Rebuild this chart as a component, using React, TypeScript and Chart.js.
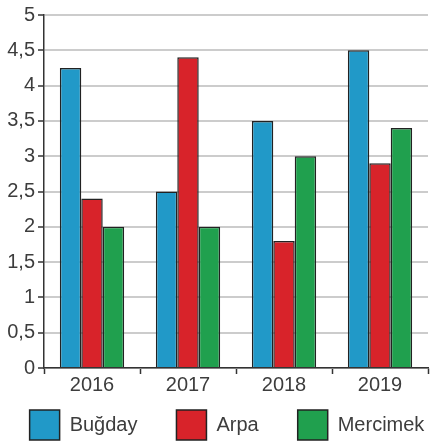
import React, { useEffect, useRef } from "react";
import { Chart, registerables } from "chart.js";

Chart.register(...registerables);

const categories = ["2016", "2017", "2018", "2019"];
const seriesNames = ["Buğday", "Arpa", "Mercimek"];
const bugday = [4.25, 2.5, 3.5, 4.5];
const arpa = [2.4, 4.4, 1.8, 2.9];
const mercimek = [2.0, 2.0, 3.0, 3.4];
const yTicks = [0, 0.5, 1, 1.5, 2, 2.5, 3, 3.5, 4, 4.5, 5];

const colors = ["#2199c8", "#d8232a", "#20a04e"];
const borderCol = "#222222";
const textCol = "#3d3d3d";
const FONT = '"Liberation Sans", Arial, sans-serif';

const legendPlugin = {
  id: "customLegend",
  afterDraw(chart: any) {
    const ctx = chart.ctx as CanvasRenderingContext2D;
    ctx.save();
    ctx.font = `20px ${FONT}`;
    const box = 30;
    const gapText = 10;
    const gap = 39;
    const items = chart.data.datasets.map((ds: any) => ({
      label: ds.label,
      bg: ds.backgroundColor,
      bd: ds.borderColor,
      tw: ctx.measureText(ds.label).width,
    }));
    let total = 0;
    items.forEach((it: any, i: number) => {
      total += box + gapText + it.tw + (i > 0 ? gap : 0);
    });
    let x = chart.width / 2 - total / 2 + 12;
    const y = 410;
    items.forEach((it: any) => {
      ctx.fillStyle = it.bg;
      ctx.fillRect(x, y, box, box);
      ctx.lineWidth = 1.5;
      ctx.strokeStyle = it.bd;
      ctx.strokeRect(x, y, box, box);
      ctx.fillStyle = textCol;
      ctx.textBaseline = "middle";
      ctx.textAlign = "left";
      ctx.fillText(it.label, x + box + gapText, y + box / 2);
      x += box + gapText + it.tw + gap;
    });
    ctx.restore();
  },
};

export default function App() {
  const ref = useRef<HTMLCanvasElement | null>(null);
  useEffect(() => {
    if (!ref.current) return;
    const values = [bugday, arpa, mercimek];
    const chart = new Chart(ref.current, {
      type: "bar",
      data: {
        labels: categories,
        datasets: seriesNames.map((name, i) => ({
          label: name,
          data: values[i],
          backgroundColor: colors[i],
          borderColor: borderCol,
          borderWidth: 1.5,
          categoryPercentage: 0.67,
          barPercentage: 1.0,
        })),
      },
      options: {
        animation: false,
        responsive: false,
        layout: { padding: { top: 12, left: 0, right: 2, bottom: 50 } },
        plugins: {
          legend: { display: false },
          tooltip: { enabled: false },
        },
        scales: {
          x: {
            offset: true,
            grid: {
              offset: true,
              drawOnChartArea: false,
              drawTicks: true,
              tickLength: 6,
              tickColor: "#333333",
              tickWidth: 1.5,
            },
            border: { color: "#333333", width: 1.5 },
            ticks: {
              color: textCol,
              font: { family: FONT, size: 20 },
              padding: -1,
            },
          },
          y: {
            min: 0,
            max: 5,
            afterBuildTicks(scale: any) {
              scale.ticks = yTicks.map((v) => ({ value: v }));
            },
            afterFit(scale: any) {
              scale.width = 44;
            },
            grid: {
              color: "#cccccc",
              lineWidth: 2,
              drawTicks: true,
              tickLength: 6,
              tickColor: "#333333",
              tickWidth: 1.5,
            },
            border: { color: "#333333", width: 1.5 },
            ticks: {
              color: textCol,
              font: { family: FONT, size: 20 },
              padding: 3,
              callback: (v: any) => String(v).replace(".", ","),
            },
          },
        },
      },
      plugins: [legendPlugin],
    });
    return () => chart.destroy();
  }, []);
  return (
    <div style={{ position: "absolute", left: 0, top: 0, width: 430, height: 446 }}>
      <canvas ref={ref} width={430} height={446} style={{ width: 430, height: 446 }} />
    </div>
  );
}
